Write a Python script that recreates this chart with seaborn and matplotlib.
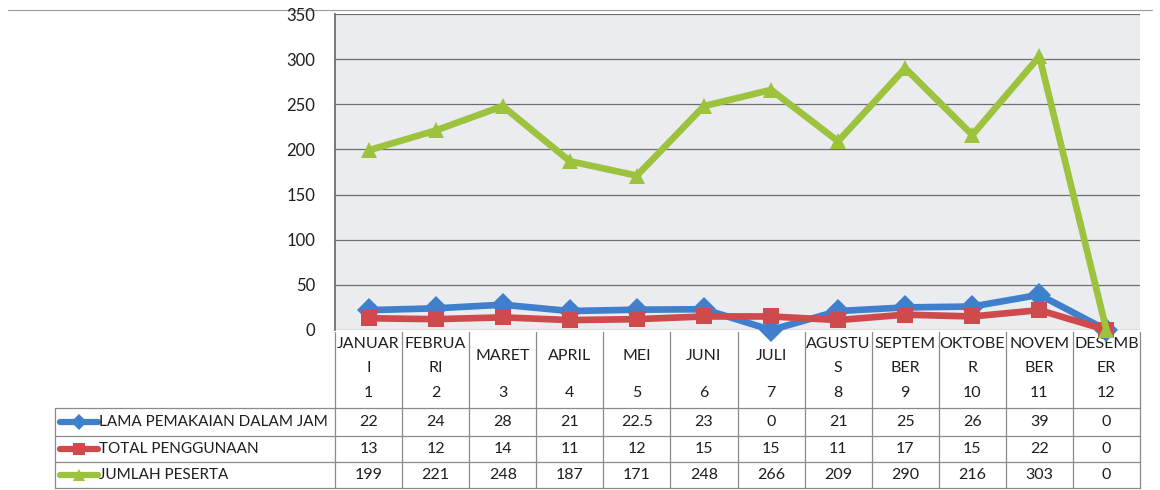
import matplotlib
matplotlib.use("Agg")
import matplotlib.pyplot as plt
import pandas as pd
import seaborn as sns

MONTH_LABELS = ["JANUAR\nI", "FEBRUA\nRI", "MARET", "APRIL", "MEI", "JUNI", "JULI",
                "AGUSTU\nS", "SEPTEM\nBER", "OKTOBE\nR", "NOVEM\nBER", "DESEMB\nER"]
MONTH_NUM = [1, 2, 3, 4, 5, 6, 7, 8, 9, 10, 11, 12]
LAMA_PEMAKAIAN = [22, 24, 28, 21, 22.5, 23, 0, 21, 25, 26, 39, 0]
TOTAL_PENGGUNAAN = [13, 12, 14, 11, 12, 15, 15, 11, 17, 15, 22, 0]
JUMLAH_PESERTA = [199, 221, 248, 187, 171, 248, 266, 209, 290, 216, 303, 0]
SERIES_NAMES = ["LAMA PEMAKAIAN DALAM JAM", "TOTAL PENGGUNAAN", "JUMLAH PESERTA"]
Y_TICKS = [0, 50, 100, 150, 200, 250, 300, 350]

COLORS = ["#3F7FCC", "#CF4A4C", "#9CC23E"]
MARKERS = ["D", "s", "^"]

sns.set_theme(style="white")
plt.rcParams["font.family"] = ["Lato", "DejaVu Sans"]
plt.rcParams["text.color"] = "#1E1E1E"

values = [LAMA_PEMAKAIAN, TOTAL_PENGGUNAAN, JUMLAH_PESERTA]
df = pd.DataFrame({
    "bulan": MONTH_NUM * 3,
    "nilai": LAMA_PEMAKAIAN + TOTAL_PENGGUNAAN + JUMLAH_PESERTA,
    "seri": [s for s in SERIES_NAMES for _ in MONTH_NUM],
})

W, H = 1160, 490
fig = plt.figure(figsize=(W / 100, H / 100), dpi=100)
ax = fig.add_axes([335 / W, 1 - 330 / H, (1140 - 335) / W, (330 - 14) / H])
ax.set_facecolor("#EBECEF")

sns.lineplot(data=df, x="bulan", y="nilai", hue="seri", style="seri",
             hue_order=SERIES_NAMES, style_order=SERIES_NAMES,
             palette=COLORS, markers=dict(zip(SERIES_NAMES, MARKERS)),
             dashes=False, linewidth=4.8, markersize=12, markeredgewidth=0,
             legend=False, ax=ax, clip_on=False)

ax.set_xlim(0.5, 12.5)
ax.set_ylim(0, 350)
ax.set_yticks(Y_TICKS)
ax.set_yticklabels([str(v) for v in Y_TICKS], fontsize=12, color="#1E1E1E")
ax.set_xticks([])
ax.set_xlabel("")
ax.set_ylabel("")
ax.yaxis.grid(True, color="#6E6E6E", linewidth=0.9)
ax.set_axisbelow(True)
ax.tick_params(axis="y", length=0, pad=14)
for side in ["top", "right", "bottom"]:
    ax.spines[side].set_visible(False)
ax.spines["left"].set_color("#6A6A6A")

# data table under the plot, drawn in pixel coordinates
ov = fig.add_axes([0, 0, 1, 1], zorder=-1)
ov.set_xlim(0, W)
ov.set_ylim(H, 0)
ov.axis("off")

col_x = [ax.transData.transform((m, 0))[0] for m in MONTH_NUM]
edges = [ax.transData.transform((m - 0.5, 0))[0] for m in MONTH_NUM] + [ax.transData.transform((12.5, 0))[0]]
grid_kw = dict(color="#8A8A8A", linewidth=0.9)
for x in edges:
    ov.plot([x, x], [332, 488], **grid_kw)
ov.plot([55, 55], [408, 488], **grid_kw)
for y in [408, 436, 462, 488]:
    ov.plot([55, edges[-1]], [y, y], **grid_kw)
ov.plot([8, W - 8], [10, 10], color="#9A9A9A", linewidth=0.8)

fs = 11.5
for x, lab, num in zip(col_x, MONTH_LABELS, MONTH_NUM):
    ov.text(x, 356, lab, ha="center", va="center", fontsize=fs, linespacing=1.85)
    ov.text(x, 393, str(num), ha="center", va="center", fontsize=fs)

row_y = [422, 449, 475]
for y, name, vals, c, mk in zip(row_y, SERIES_NAMES, values, COLORS, MARKERS):
    ov.plot([60, 98], [y, y], color=c, linewidth=4.5, solid_capstyle="round")
    ov.plot([79], [y], marker=mk, color=c, markersize=8, markeredgewidth=0)
    ov.text(99, y, name, ha="left", va="center", fontsize=11)
    for x, v in zip(col_x, vals):
        ov.text(x, y, f"{v:g}", ha="center", va="center", fontsize=fs)

fig.savefig("out.png", dpi=100)
